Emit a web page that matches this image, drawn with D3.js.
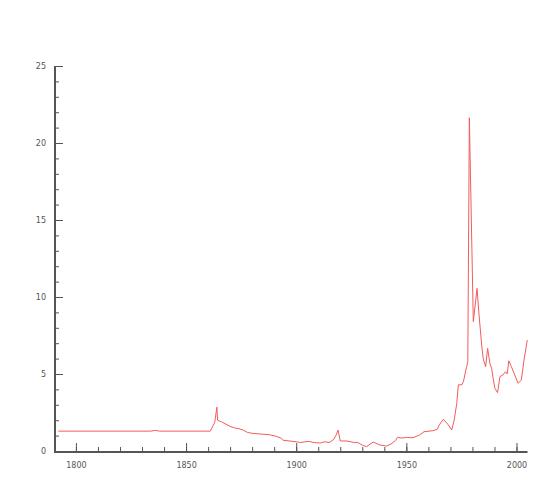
<!DOCTYPE html>
<html><head><meta charset="utf-8">
<script src="https://cdn.jsdelivr.net/npm/d3@7"></script>
<style>body{margin:0;background:#fff}svg{display:block}</style>
</head><body>
<svg id="c" width="554" height="490"></svg>
<script>
const years = [1792,1834,1836,1838,1861,1863,1864,1864.3,1865,1866,1870,1872,1874,1876,1878,1880,1884,1888,1891,1893,1894,1897,1900,1902,1904,1906,1908,1911,1913,1915,1917,1918,1919,1920,1923,1926,1928,1930,1932,1934,1935,1937,1938,1941,1943,1945,1946,1948,1950,1953,1956,1958,1962,1964,1965,1966.8,1969.1,1970.6,1971.7,1972.9,1973.6,1975.2,1975.9,1977.4,1977.9,1978.6,1980.4,1982.1,1983,1984.2,1984.9,1986,1986.9,1987.9,1988.7,1989.4,1990.2,1991.4,1992.5,1993.9,1995,1995.8,1996.5,1997.7,1998.9,2000.7,2002.2,2003.4,2004.9];
const values = [1.29,1.29,1.34,1.29,1.29,1.85,2.85,2.0,1.95,1.9,1.6,1.5,1.45,1.35,1.2,1.15,1.1,1.05,0.95,0.85,0.7,0.65,0.6,0.55,0.6,0.62,0.55,0.52,0.6,0.55,0.75,1.0,1.36,0.65,0.65,0.56,0.55,0.38,0.28,0.5,0.58,0.45,0.39,0.32,0.45,0.67,0.89,0.84,0.88,0.86,1.04,1.25,1.32,1.4,1.7,2.06,1.69,1.36,2.0,3.1,4.3,4.3,4.5,5.5,5.8,21.64,8.4,10.56,8.83,6.88,6.0,5.47,6.67,5.7,5.37,4.72,4.07,3.79,4.83,4.94,5.15,5.0,5.86,5.47,5.05,4.4,4.6,5.9,7.2];
const xMajorTicks = [1800,1850,1900,1950,2000];
const yMajorTicks = [0,5,10,15,20,25];

const svg = d3.select("#c");
const x = d3.scaleLinear().domain([1790.5, 2005]).range([55, 527.5]);
const y = d3.scaleLinear().domain([0, 25]).range([451, 66]);

const axisColor = "#555";
// y axis
const yAxisMinor = d3.axisLeft(y).tickValues(d3.range(0, 26, 1)).tickSize(-4).tickFormat("");
const yAxisMajor = d3.axisLeft(y).tickValues(yMajorTicks).tickSize(-8).tickPadding(9);
const gyMin = svg.append("g").attr("transform","translate(55,0)").call(yAxisMinor);
const gy = svg.append("g").attr("transform","translate(55,0)").call(yAxisMajor);
// x axis
const xAxisMinor = d3.axisBottom(x).tickValues(d3.range(1800, 2001, 10)).tickSize(-4).tickFormat("");
const xAxisMajor = d3.axisBottom(x).tickValues(xMajorTicks).tickSize(-8).tickPadding(11).tickFormat(d3.format("d"));
const gxMin = svg.append("g").attr("transform","translate(0,451)").call(xAxisMinor);
const gx = svg.append("g").attr("transform","translate(0,451)").call(xAxisMajor);

[gy, gyMin, gx, gxMin].forEach(g => {
  g.selectAll(".domain").remove();
  g.selectAll(".tick line").attr("stroke", axisColor).attr("stroke-width", 1);
  g.selectAll("text").attr("fill", "#555").style("font-family", "DejaVu Sans, sans-serif").style("font-size", "8px");
});

// axis lines
svg.append("line").attr("x1",55).attr("x2",55).attr("y1",y(25)).attr("y2",452)
  .attr("stroke",axisColor).attr("stroke-width",2);
svg.append("line").attr("x1",54).attr("x2",x(2005)).attr("y1",452).attr("y2",452)
  .attr("stroke",axisColor).attr("stroke-width",2);

const data = years.map((yr,i)=>[yr, values[i]]);
svg.append("path").datum(data)
  .attr("fill","none").attr("stroke","#f25c5c").attr("stroke-width",1)
  .attr("d", d3.line().x(d=>x(d[0])).y(d=>y(d[1])));
</script>
</body></html>
